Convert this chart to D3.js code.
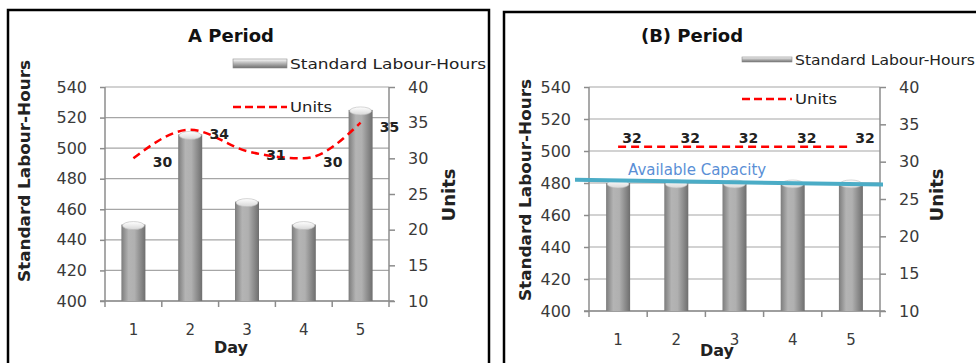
<!DOCTYPE html>
<html>
<head>
<meta charset="utf-8">
<script src="https://cdn.jsdelivr.net/npm/d3@7"></script>
<style>
  body { margin: 0; background: #fff; }
  svg { display: block; }
</style>
</head>
<body>
<svg id="chart" width="976" height="363"></svg>
<script>
// data
const days = ["1", "2", "3", "4", "5"];
const hoursA = [450, 509, 465, 450, 525];
const unitsA = [30, 34, 31, 30, 35];
const hoursB = [480, 480, 480, 480, 480];
const unitsB = [32, 32, 32, 32, 32];
const capacityB = [482, 479];   // drawn line, left end / right end
const hourTicks = [400, 420, 440, 460, 480, 500, 520, 540];
const unitTicks = [10, 15, 20, 25, 30, 35, 40];

const svg = d3.select("#chart");
svg.append("rect").attr("width", 976).attr("height", 363).attr("fill", "#fff");

// gradients for the cylinder bars
const defs = svg.append("defs");
const gBar = defs.append("linearGradient").attr("id", "barGrad");
[[0, "#7c7c7c"], [0.3, "#b4b4b4"], [0.55, "#b0b0b0"], [1, "#6e6e6e"]].forEach(s =>
  gBar.append("stop").attr("offset", s[0]).attr("stop-color", s[1]));
const gCap = defs.append("linearGradient").attr("id", "capGrad").attr("x2", 0).attr("y2", 1);
[[0, "#ffffff"], [1, "#d8d8d8"]].forEach(s =>
  gCap.append("stop").attr("offset", s[0]).attr("stop-color", s[1]));
const gLeg = defs.append("linearGradient").attr("id", "legGrad").attr("x2", 0).attr("y2", 1);
[[0, "#ffffff"], [0.35, "#c8c8c8"], [1, "#6e6e6e"]].forEach(s =>
  gLeg.append("stop").attr("offset", s[0]).attr("stop-color", s[1]));

const FONT = "'DejaVu Sans', sans-serif";

function drawPanel(p) {
  const g = svg.append("g");

  // frame
  g.append("rect")
    .attr("x", p.frame[0]).attr("y", p.frame[1])
    .attr("width", p.frame[2]).attr("height", p.frame[3])
    .attr("fill", "none").attr("stroke", "#000").attr("stroke-width", 2.5);

  const x = d3.scaleBand().domain(days).range([p.x0, p.x1]);
  const y = d3.scaleLinear().domain([400, 540]).range([p.yBot, p.yTop]);
  const y2 = d3.scaleLinear().domain([10, 40]).range([p.yBot, p.yTop]);

  // gridlines
  g.append("g").selectAll("line").data(hourTicks).join("line")
    .attr("x1", p.x0).attr("x2", p.x1)
    .attr("y1", d => y(d)).attr("y2", d => y(d))
    .attr("stroke", "#a6a6a6").attr("stroke-width", 1.2);

  // left axis
  const la = g.append("g").attr("transform", `translate(${p.x0},0)`)
    .call(d3.axisLeft(y).tickValues(hourTicks).tickSize(5).tickPadding(13));
  // right axis
  const ra = g.append("g").attr("transform", `translate(${p.x1},0)`)
    .call(d3.axisRight(y2).tickValues(unitTicks).tickSize(6).tickPadding(13));
  [la, ra].forEach(a => {
    a.select(".domain").attr("stroke", "#8c8c8c").attr("stroke-width", 1.5)
      .attr("d", `M0,${p.yTop}V${p.yBot}`);
    a.selectAll(".tick line").attr("stroke", "#8c8c8c").attr("stroke-width", 1.5);
    a.selectAll(".tick text").attr("font-family", FONT).attr("font-size", 16)
      .attr("fill", "#3a3a3a");
  });

  // bottom axis: ticks at category boundaries
  g.append("line").attr("x1", p.x0 - 5).attr("x2", p.x1 + 5)
    .attr("y1", p.yBot).attr("y2", p.yBot)
    .attr("stroke", "#8c8c8c").attr("stroke-width", 1.5);
  const bounds = days.map(d => x(d)).concat([p.x1]);
  g.append("g").selectAll("line").data(bounds).join("line")
    .attr("x1", d => d).attr("x2", d => d)
    .attr("y1", p.yBot).attr("y2", p.yBot + 6)
    .attr("stroke", "#8c8c8c").attr("stroke-width", 1.5);
  g.append("g").selectAll("text").data(days).join("text")
    .attr("x", d => x(d) + x.bandwidth() / 2).attr("y", p.tickY)
    .attr("text-anchor", "middle").attr("font-family", FONT)
    .attr("font-size", 15).attr("fill", "#3a3a3a").text(d => d);

  // cylinder bars
  const bw = 24;
  const bars = g.append("g").selectAll("g").data(p.hours).join("g");
  bars.append("rect")
    .attr("x", (d, i) => x(days[i]) + x.bandwidth() / 2 - bw / 2)
    .attr("width", bw)
    .attr("y", d => y(d))
    .attr("height", d => y(400) - y(d))
    .attr("fill", "url(#barGrad)");
  bars.append("ellipse")
    .attr("cx", (d, i) => x(days[i]) + x.bandwidth() / 2)
    .attr("cy", d => y(d) + 1)
    .attr("rx", bw / 2 - 1).attr("ry", 4)
    .attr("fill", "url(#capGrad)").attr("stroke", "#b8b8b8").attr("stroke-width", 0.6);

  // capacity line (B only)
  if (p.capacity) {
    g.append("line")
      .attr("x1", p.capX[0]).attr("x2", p.capX[1])
      .attr("y1", y(p.capacity[0])).attr("y2", y(p.capacity[1]))
      .attr("stroke", "#4bacc6").attr("stroke-width", 4);
    g.append("text").attr("x", p.capTextX).attr("y", y(p.capacity[0]) - 5)
      .attr("font-family", FONT).attr("font-size", 15).attr("fill", "#5a8fd6")
      .text("Available Capacity");
  }

  // units line
  const line = d3.line()
    .x((d, i) => x(days[i]) + x.bandwidth() / 2)
    .y(d => y2(d))
    .curve(d3.curveMonotoneX);
  g.append("path").datum(p.units).attr("d", line)
    .attr("fill", "none").attr("stroke", "#ff0000").attr("stroke-width", 2.5)
    .attr("stroke-dasharray", "8,5");
  g.append("g").selectAll("text").data(p.units).join("text")
    .attr("x", (d, i) => x(days[i]) + x.bandwidth() / 2 + p.labelDx)
    .attr("y", d => y2(d) + p.labelDy)
    .attr("text-anchor", "middle").attr("font-family", FONT)
    .attr("font-weight", "bold").attr("font-size", 14).attr("fill", "#222")
    .text(d => d);

  // title
  g.append("text").attr("x", p.titleX).attr("y", 42)
    .attr("text-anchor", "middle").attr("font-family", FONT)
    .attr("font-weight", "bold").attr("font-size", 18).attr("fill", "#111")
    .text(p.title);

  // legend
  g.append("rect").attr("x", p.legX).attr("y", p.legBarY)
    .attr("width", p.legW).attr("height", p.legBarH)
    .attr("fill", "url(#legGrad)").attr("stroke", "#8a8a8a").attr("stroke-width", 0.6);
  g.append("text").attr("x", p.legX + p.legW + 3).attr("y", p.legBarY + p.legBarH / 2 + 5)
    .attr("font-family", FONT).attr("font-size", 14).attr("fill", "#222")
    .attr("textLength", p.legTextW).attr("lengthAdjust", "spacingAndGlyphs")
    .text("Standard Labour-Hours");
  g.append("line").attr("x1", p.legX).attr("x2", p.legX + p.legW)
    .attr("y1", p.unitsLegY).attr("y2", p.unitsLegY)
    .attr("stroke", "#ff0000").attr("stroke-width", 2.5).attr("stroke-dasharray", "8,4");
  g.append("text").attr("x", p.legX + p.legW + 3).attr("y", p.unitsLegY + 5)
    .attr("font-family", FONT).attr("font-size", 14).attr("fill", "#222")
    .attr("textLength", 42).attr("lengthAdjust", "spacingAndGlyphs")
    .text("Units");

  // axis titles
  g.append("text")
    .attr("transform", `translate(${p.yTitleX},${p.yTitleY}) rotate(-90)`)
    .attr("text-anchor", "middle").attr("font-family", FONT)
    .attr("font-weight", "bold").attr("font-size", 16).attr("fill", "#222")
    .attr("textLength", 222).attr("lengthAdjust", "spacingAndGlyphs")
    .text("Standard Labour-Hours");
  g.append("text")
    .attr("transform", `translate(${p.uTitleX},${p.uTitleY}) rotate(-90)`)
    .attr("text-anchor", "middle").attr("font-family", FONT)
    .attr("font-weight", "bold").attr("font-size", 18).attr("fill", "#222")
    .text("Units");
  g.append("text").attr("x", p.dayX).attr("y", p.dayY)
    .attr("text-anchor", "middle").attr("font-family", FONT)
    .attr("font-weight", "bold").attr("font-size", 16).attr("fill", "#222")
    .text("Day");
}

drawPanel({
  title: "A Period", hours: hoursA, units: unitsA,
  frame: [8, 10, 481, 360],
  x0: 105, x1: 389, yTop: 87, yBot: 301,
  titleX: 231, tickY: 335, dayX: 231, dayY: 353,
  labelDx: 29, labelDy: 9,
  legX: 233, legW: 54, legBarY: 59, legBarH: 9, unitsLegY: 107, legTextW: 196,
  yTitleX: 30, yTitleY: 171, uTitleX: 455, uTitleY: 195
});

drawPanel({
  title: "(B) Period", hours: hoursB, units: unitsB,
  capacity: capacityB, capX: [575, 883], capTextX: 628,
  frame: [504, 12, 480, 360],
  x0: 589, x1: 880, yTop: 87, yBot: 311,
  titleX: 692, tickY: 345, dayX: 717, dayY: 356,
  labelDx: 14, labelDy: -4,
  legX: 742, legW: 50, legBarY: 57, legBarH: 5, unitsLegY: 99, legTextW: 180,
  yTitleX: 531, yTitleY: 190, uTitleX: 943, uTitleY: 195
});
</script>
</body>
</html>
